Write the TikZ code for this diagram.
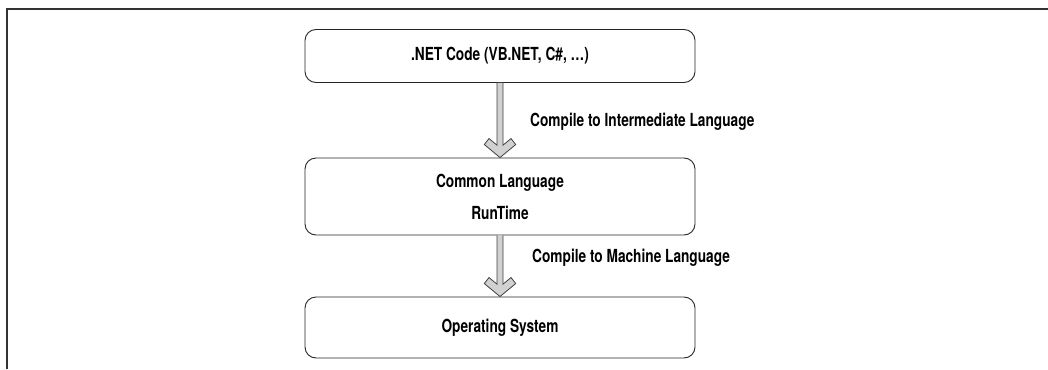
\documentclass[tikz,border=0pt]{standalone}
\usepackage{fontspec}
\setmainfont{TeX Gyre Heros}[FakeStretch=0.76]
\usetikzlibrary{calc}
\tikzset{
  stagebox/.style={draw=black!85, line width=0.9pt, rounded corners=11pt, minimum width=390pt, align=center, font=\bfseries\fontsize{18}{32}\selectfont},
  lbl/.style={anchor=west, inner sep=0pt, font=\bfseries\fontsize{18}{20}\selectfont},
  fatarrow/.style={draw=black!75, line width=0.8pt, fill=black!18, line join=miter}
}
\begin{document}
\begin{tikzpicture}[x=1pt,y=1pt]
\useasboundingbox (0,0) rectangle (1048,-369);
\coordinate (fbl) at (7,-369);
\coordinate (ftl) at (7,-9);
\coordinate (ftr) at (1048,-9);
\draw[line width=1.6pt, black!80] (fbl) -- (ftl) -- (ftr);

\node[stagebox, minimum height=53pt] (b1) at (500,-56) {.NET Code (VB.NET, C\#, \dots)};
\node[stagebox, minimum height=77pt] (b2) at (500,-196.5) {Common Language\\RunTime};
\node[stagebox, minimum height=61pt] (b3) at (500,-327.5) {Operating System};

\foreach \a/\b in {b1/b2, b2/b3}{
  \path let \p1=(\a.south), \p2=(\b.north) in
    coordinate (s) at (\x1,\y1) coordinate (e) at (\x2,\y2);
  \draw[fatarrow] ($(s)+(-3,0)$) -- ($(e)+(-3,12.4)$) -- ($(e)+(-11,19)$) -- ($(e)+(-15.7,13)$) -- (e)
     -- ($(e)+(15.7,13)$) -- ($(e)+(11,19)$) -- ($(e)+(3,12.4)$) -- ($(s)+(3,0)$);
}
\node[lbl] (l1) at (530,-122) {Compile to Intermediate Language};
\node[lbl] (l2) at (532,-258) {Compile to Machine Language};
\end{tikzpicture}
\end{document}
